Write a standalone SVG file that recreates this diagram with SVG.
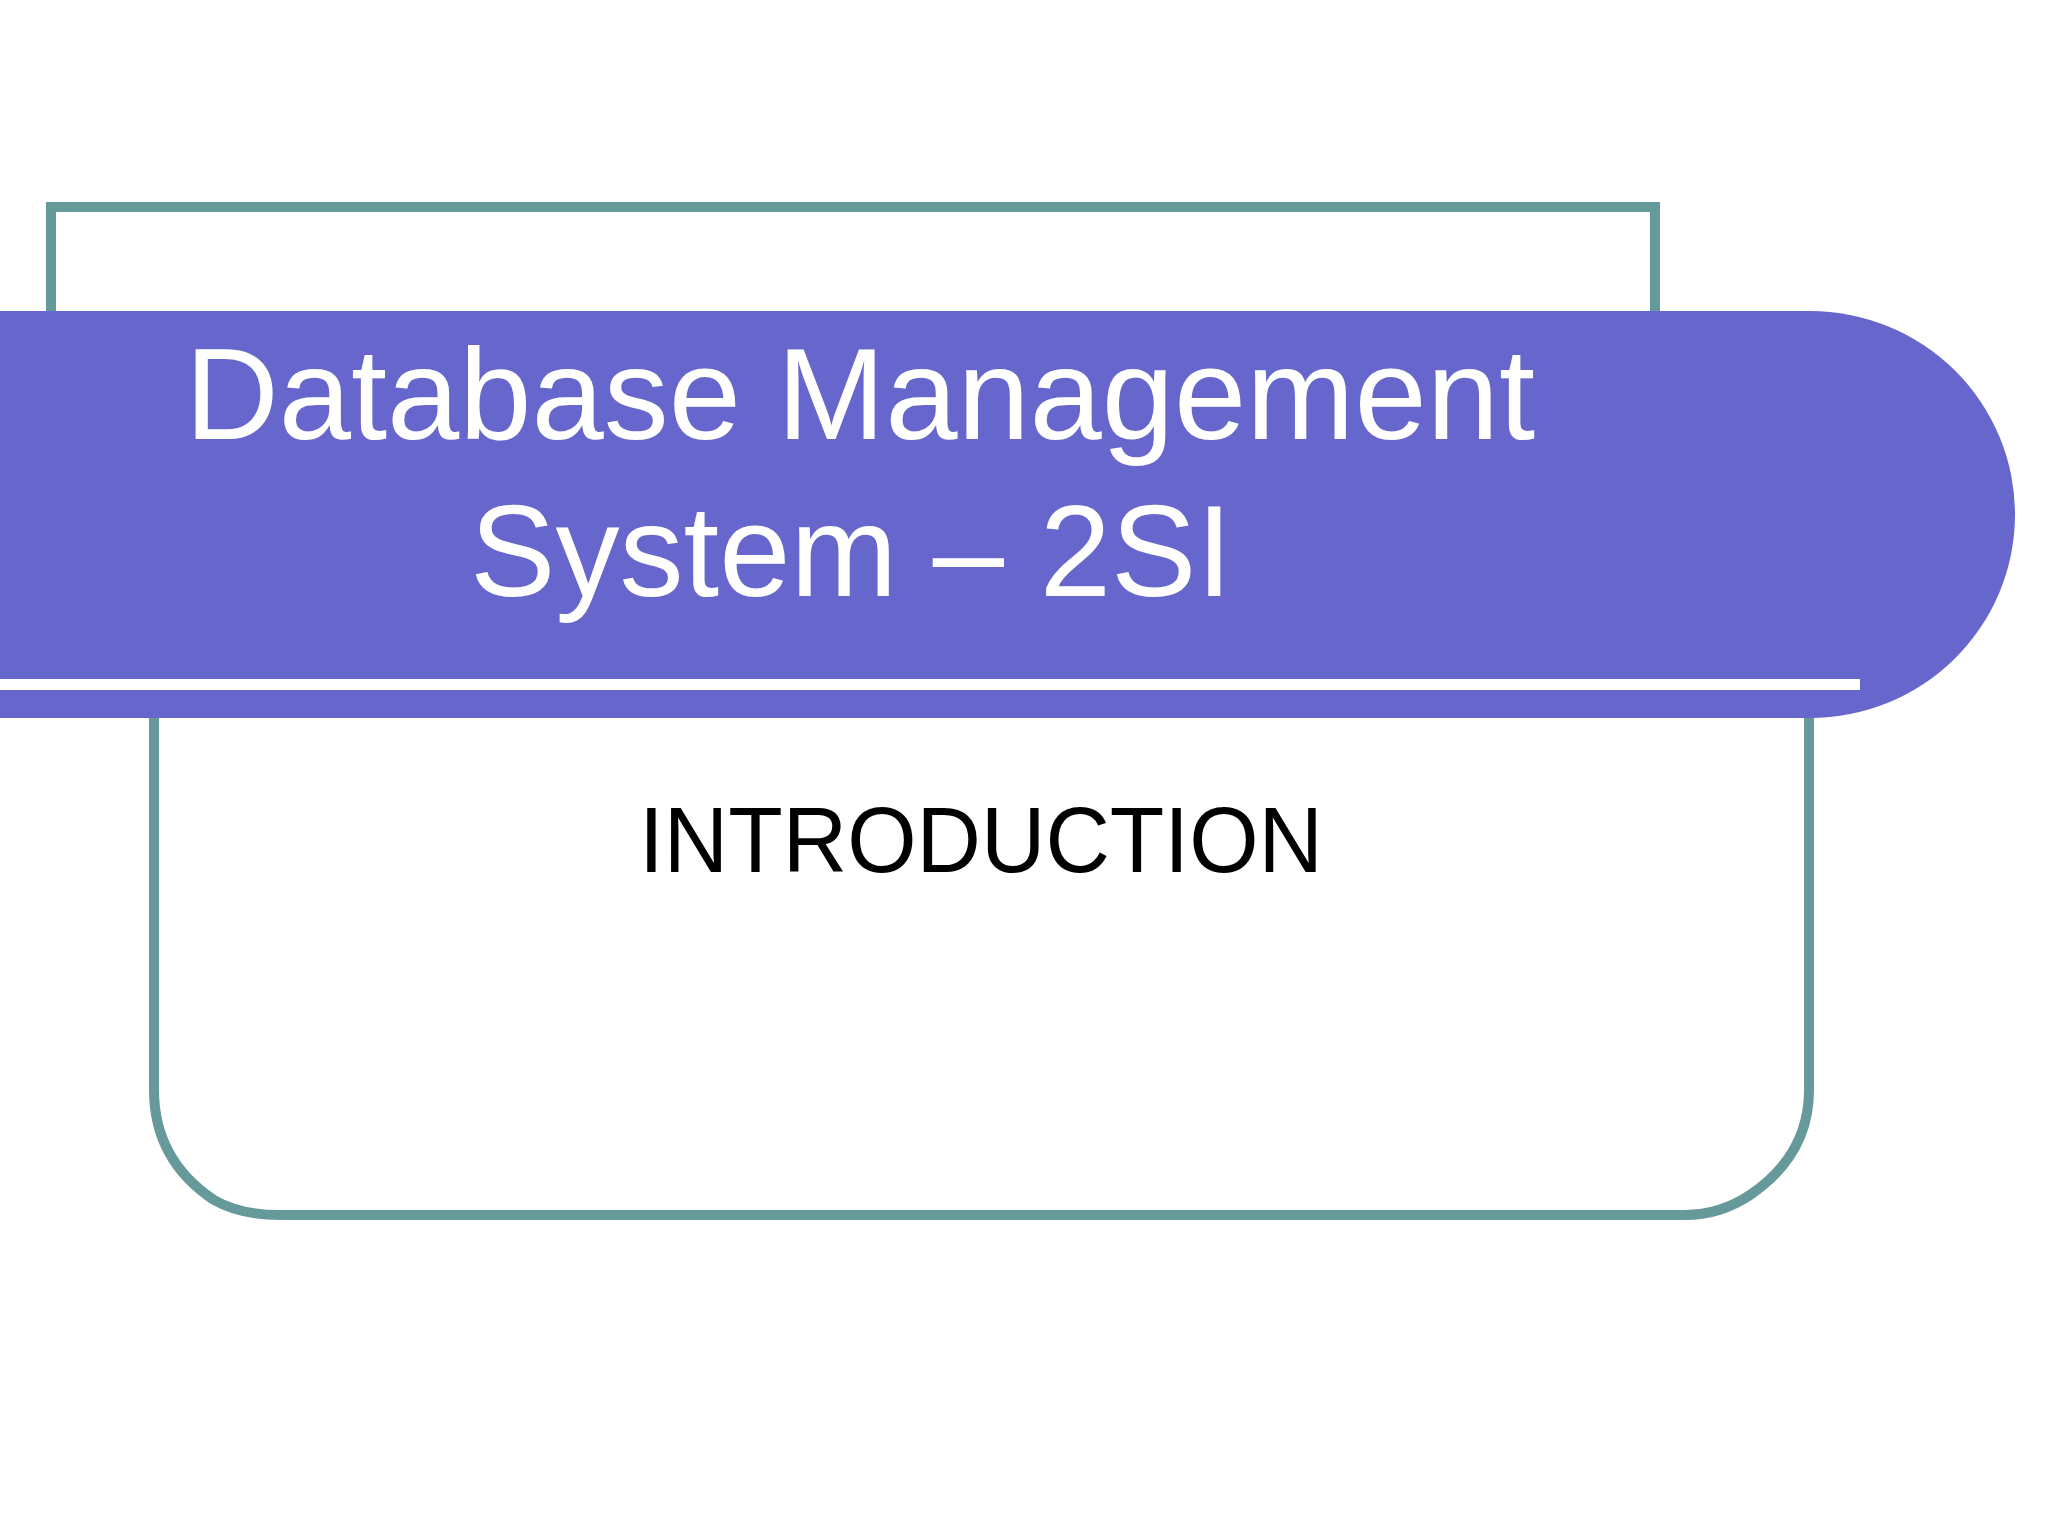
<svg xmlns="http://www.w3.org/2000/svg" width="2048" height="1536" viewBox="0 0 2048 1536">
<style>
.frame{fill:#fff;stroke:#669999;stroke-width:10}
.t{font-family:"Liberation Sans",Arial,sans-serif;fill:#fff}
</style>
<rect width="2048" height="1536" fill="#fff"/>
<g id="topframe"><rect class="frame" x="51" y="207" width="1604" height="200"/></g>
<g id="lowerframe"><path class="frame" d="M154 600 V1090 Q154 1160 214 1200 Q240 1215 280 1215 H1685 Q1720 1215 1750 1195 Q1809 1155 1809 1090 V600 Z"/></g>
<g id="band">
<path d="M0 311 H1810 A205 203.5 0 0 1 1810 718 H0 Z" fill="#6666CC"/>
<rect x="0" y="679" width="1860" height="11" fill="#fff"/>
<text class="t" x="185" y="439" font-size="130" textLength="1350" lengthAdjust="spacingAndGlyphs">Database Management</text>
<text class="t" x="470" y="596" font-size="130" textLength="762" lengthAdjust="spacingAndGlyphs">System – 2SI</text>
</g>
<g id="subtitle"><text x="639" y="872" font-family="Liberation Sans,Arial,sans-serif" font-size="93" fill="#000" textLength="684" lengthAdjust="spacingAndGlyphs">INTRODUCTION</text></g>
</svg>
